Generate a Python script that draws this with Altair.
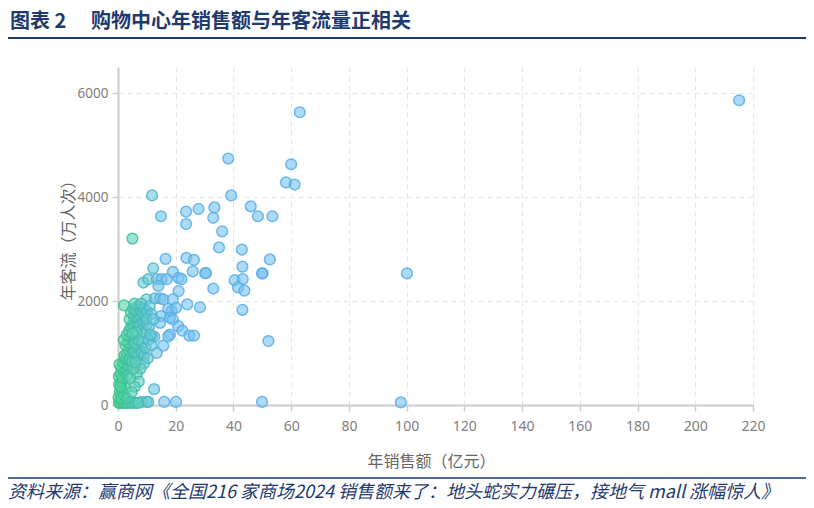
import altair as alt
import pandas as pd

# Annual sales (100m CNY) and annual footfall (10k visits) per mall
sales = [
    215.2, 100.1, 98.0, 63.0, 60.0, 58.2, 61.2, 38.2, 39.2, 46.0, 48.5, 53.5,
    42.9, 52.6, 43.1, 49.9, 50.1, 40.4, 43.2, 41.6, 43.8, 43.1, 52.1, 49.9,
    11.8, 14.9, 23.6, 23.6, 27.9, 33.4, 33.0, 36.1, 35.0, 5.0,
    16.5, 23.7, 26.3, 12.2, 19.0, 25.9, 30.2, 30.5,
    8.8, 10.5, 13.4, 15.1, 16.9, 21.0, 22.0, 14.0, 33.0, 21.0,
    9.9, 12.8, 14.6, 15.7, 19.0, 24.0, 28.4,
    2.1, 17.4, 18.6, 20.1, 14.9, 14.6, 18.0, 19.0, 20.9, 22.3, 18.0, 17.4,
    24.7, 26.3, 11.7, 12.6, 15.7, 13.4, 12.5, 16.0, 20.1, 8.2, 9.9, 10.5,
    0.3, 0.8, 1.5, 2.2, 3.0, 4.0, 5.0, 6.0, 7.0,
    0.2, 0.6, 1.0, 1.4, 2.0, 2.6, 0.4, 1.2, 0.8, 3.1,
    0.3, 0.9, 1.5, 2.1, 2.8, 1.1, 0.5, 3.3, 1.8, 2.5, 3.6, 4.0,
    2.2, 3.0, 3.8, 4.5, 2.6, 3.4, 5.0, 4.2, 2.0, 5.5, 6.2, 6.8, 7.5, 8.2,
    9.0, 5.8, 3.9, 4.8, 7.2,
    3.0, 3.8, 4.5, 5.2, 6.0, 4.0, 5.5, 6.8, 7.5, 8.3, 9.2, 6.4, 5.0, 8.8,
    10.0, 10.8, 9.5, 7.0,
    4.5, 5.2, 6.0, 6.8, 7.6, 8.4, 9.2, 10.0, 5.8, 8.0, 11.0, 11.5, 9.8, 12.3,
    8.5, 9.5, 10.5, 11.2, 9.0, 7.8, 10.3, 11.6, 6.5, 7.2, 5.8, 4.8, 4.2, 5.3,
    6.1,
]
footfall = [
    5860, 2530, 50, 5630, 4630, 4280, 4240, 4740, 4030, 3820, 3630, 3630,
    2990, 2800, 2660, 2530, 2530, 2400, 2420, 2260, 2200, 1830, 1230, 60,
    4030, 3630, 3720, 3480, 3770, 3800, 3600, 3340, 3030, 3200,
    2810, 2830, 2790, 2630, 2560, 2570, 2535, 2535,
    2355, 2420, 2420, 2420, 2420, 2445, 2420, 2290, 2240, 2190,
    2030, 2050, 2050, 2030, 2030, 1935, 1880,
    1916, 1850, 1806, 1870, 1710, 1580, 1680, 1645, 1516, 1430, 1355, 1320,
    1335, 1335, 1320, 1310, 1140, 1000, 304, 60, 60, 60, 60, 60,
    40, 40, 40, 40, 40, 40, 40, 40, 40,
    150, 250, 120, 300, 200, 320, 400, 450, 350, 130,
    550, 600, 520, 650, 700, 720, 780, 560, 820, 880, 760, 900,
    950, 1000, 1050, 1100, 1150, 1200, 1250, 1300, 1250, 1000, 950, 1150,
    1050, 1000, 950, 1180, 860, 820, 1250,
    1350, 1420, 1500, 1550, 1600, 1650, 1700, 1680, 1520, 1450, 1380, 1400,
    1380, 1600, 1550, 1500, 1700, 1750,
    1780, 1850, 1820, 1900, 1850, 1780, 1850, 1800, 1950, 1950, 1900, 1750,
    1650, 1650,
    1200, 1100, 1250, 1350, 800, 700, 900, 1150, 600, 450, 350, 250, 520,
    700, 820,
]

x_ticks = [0, 20, 40, 60, 80, 100, 120, 140, 160, 180, 200, 220]
y_ticks = [0, 2000, 4000, 6000]

title_text = "图表 2　 购物中心年销售额与年客流量正相关"
source_text = "资料来源：赢商网《全国216 家商场2024 销售额来了：地头蛇实力碾压，接地气 mall 涨幅惊人》"
x_title = "年销售额（亿元）"
y_title = "年客流（万人次）"

df = pd.DataFrame({"sales": sales, "footfall": footfall})

NAVY = "#1f3a6e"
GREY_TXT = "#808080"

points = alt.Chart(df).mark_circle(
    size=115, fillOpacity=0.6, strokeOpacity=0.85, strokeWidth=1.5, clip=False
).encode(
    x=alt.X(
        "sales:Q",
        scale=alt.Scale(domain=[0, 220], nice=False),
        axis=alt.Axis(
            values=x_ticks, title=x_title, titleX=313, titleY=48,
            titleFontSize=16, titleColor="#666666", titleFontWeight="normal",
            titleFont="Noto Sans CJK SC",
            labelFontSize=14, labelColor=GREY_TXT, labelPadding=8,
            labelFont="Noto Sans", labelFlush=False, labelOverlap=False,
            grid=True, gridDash=[5, 4], gridColor="#e4e4e4",
            domainColor="#cccccc", domainWidth=2, tickColor="#cccccc",
            tickSize=6, tickWidth=1.5,
        ),
    ),
    y=alt.Y(
        "footfall:Q",
        scale=alt.Scale(domain=[0, 6500], nice=False),
        axis=alt.Axis(
            values=y_ticks, title=y_title, titleX=-50, titleY=169,
            titleAngle=-90, titleAlign="center", titleBaseline="middle",
            titleFontSize=16, titleColor="#666666", titleFontWeight="normal",
            titleFont="Noto Sans CJK SC", format="d",
            labelFontSize=13.5, labelColor=GREY_TXT, labelPadding=4,
            labelFont="Noto Sans", labelFlush=False,
            grid=True, gridDash=[5, 4], gridColor="#e4e4e4",
            domainColor="#cccccc", domainWidth=2, tickColor="#cccccc",
            tickSize=6, tickWidth=1.5,
        ),
    ),
    fill=alt.Fill(
        "sales:Q",
        scale=alt.Scale(domain=[1, 16], range=["#4fd6a0", "#74c2f2"],
                        clamp=True, interpolate="rgb"),
        legend=None,
    ),
    stroke=alt.Stroke(
        "sales:Q",
        scale=alt.Scale(domain=[1, 16], range=["#3cc18c", "#58aee6"],
                        clamp=True, interpolate="rgb"),
        legend=None,
    ),
)

one = pd.DataFrame({"k": [0]})

title_mark = alt.Chart(one).mark_text(
    align="left", baseline="middle", fontSize=20, fontWeight="bold",
    font="Noto Sans CJK SC", color=NAVY,
).encode(x=alt.value(-108), y=alt.value(-45), text=alt.value(title_text))

title_rule = alt.Chart(one).mark_rule(color=NAVY, strokeWidth=2).encode(
    x=alt.value(-112), x2=alt.value(688), y=alt.value(-29)
)

source_rule = alt.Chart(one).mark_rule(color=NAVY, strokeWidth=1.5).encode(
    x=alt.value(-112), x2=alt.value(688), y=alt.value(411)
)

source_mark = alt.Chart(one).mark_text(
    align="left", baseline="middle", fontSize=18, fontStyle="italic",
    font="Noto Sans CJK SC", color=NAVY,
).encode(x=alt.value(-110), y=alt.value(426), text=alt.value(source_text))

chart = alt.layer(points, title_mark, title_rule, source_rule, source_mark).properties(
    width=635, height=338,
    autosize=alt.AutoSizeParams(type="none"),
    padding={"left": 110, "top": 59, "right": 53, "bottom": 98},
).configure_view(stroke=None)

chart.save("out.html", embed_options={"renderer": "svg", "actions": False})
